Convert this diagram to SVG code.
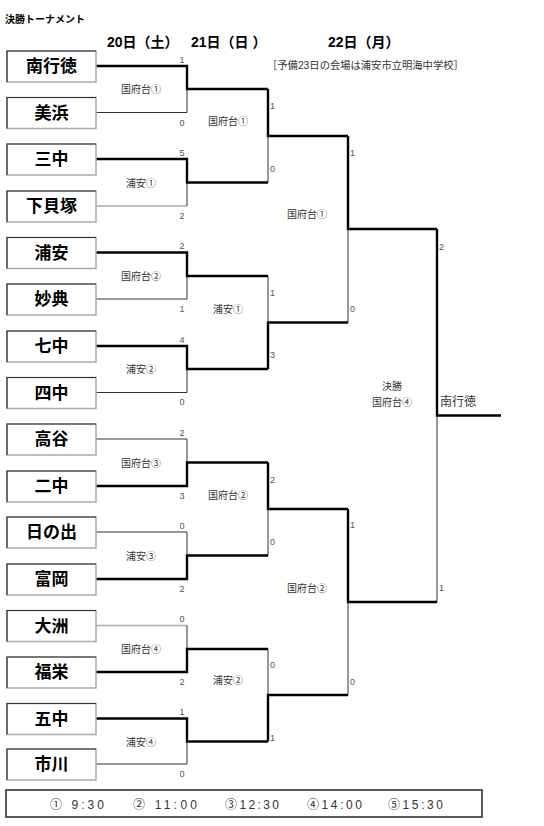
<svg xmlns="http://www.w3.org/2000/svg" width="544" height="826" viewBox="0 0 544 826">
<style>
text{font-family:"Liberation Sans","Noto Sans CJK JP",sans-serif;}
.box{fill:#fff;stroke:#aaa;stroke-width:1.5;}
.boxtl{fill:none;stroke:#333;stroke-width:1.2;}
.team{font-size:17px;fill:#000;text-anchor:middle;font-weight:bold;}
.w{fill:none;stroke:#000;stroke-width:2.4;}
.l{fill:none;stroke:#333;stroke-width:1;}
.lg{fill:none;stroke:#aaa;stroke-width:1.3;}
.sc{font-size:9px;fill:#555;}
.scm{font-size:9px;fill:#555;text-anchor:middle;}
.ml{font-size:10px;fill:#333;text-anchor:middle;}
.hd{font-size:14px;fill:#000;font-weight:bold;}
.lgd{font-size:12px;fill:#333;}
</style>
<rect width="544" height="826" fill="#fff"/>
<g id="header">
<text x="5" y="23" style="font-size:10px;font-weight:bold">決勝トーナメント</text>
<text class="hd" x="107" y="47">20日（土）</text>
<text class="hd" x="191" y="47">21日（日 ）</text>
<text class="hd" x="328" y="47">22日（月）</text>
<text x="267" y="69" style="font-size:10.3px;fill:#333">［予備23日の会場は浦安市立明海中学校］</text>
</g>
<g id="connectors">
<path class="l" d="M96 112.5H187V89"/>
<path class="lg" d="M96 206H187"/><path class="l" d="M187 206V182.5"/>
<path class="l" d="M96 299H187V276"/>
<path class="l" d="M96 392.5H187V369"/>
<path class="l" d="M96 439H187V462.5"/>
<path class="l" d="M96 532H187V555.5"/>
<path class="lg" d="M96 625.5H187"/><path class="l" d="M187 625.5V649"/>
<path class="l" d="M96 764H187V741.5"/>
<path class="l" d="M268 182.5V136"/>
<path class="l" d="M268 276V322.5"/>
<path class="l" d="M268 555.5V509"/>
<path class="l" d="M268 649V695"/>
<path class="l" d="M348 322.5V229"/>
<path class="l" d="M348 695V602"/>
<path class="l" d="M437 602V415.5"/>
<path class="w" d="M96 66H187V89H268"/>
<path class="w" d="M96 159H187V182.5H268"/>
<path class="w" d="M96 252.5H187V276H268"/>
<path class="w" d="M96 346H187V369H268"/>
<path class="w" d="M96 486H187V462.5H268"/>
<path class="w" d="M96 579H187V555.5H268"/>
<path class="w" d="M96 672H187V649H268"/>
<path class="w" d="M96 718.5H187V741.5H268"/>
<path class="w" d="M268 89V136H348"/>
<path class="w" d="M268 369V322.5H348"/>
<path class="w" d="M268 462.5V509H348"/>
<path class="w" d="M268 741.5V695H348"/>
<path class="w" d="M348 136V229H437"/>
<path class="w" d="M348 509V602H437"/>
<path class="w" d="M437 229V415.5H501"/>
</g>
<g id="scores">
<text class="scm" x="182" y="63">1</text><text class="scm" x="182" y="126">0</text>
<text class="scm" x="182" y="156">5</text><text class="scm" x="182" y="219">2</text>
<text class="scm" x="182" y="249">2</text><text class="scm" x="182" y="312">1</text>
<text class="scm" x="182" y="343">4</text><text class="scm" x="182" y="405">0</text>
<text class="scm" x="182" y="436">2</text><text class="scm" x="182" y="499">3</text>
<text class="scm" x="182" y="529">0</text><text class="scm" x="182" y="592">2</text>
<text class="scm" x="182" y="622">0</text><text class="scm" x="182" y="685">2</text>
<text class="scm" x="182" y="715">1</text><text class="scm" x="182" y="777">0</text>
<text class="sc" x="270" y="109">1</text><text class="sc" x="270" y="171.5">0</text>
<text class="sc" x="270" y="296">1</text><text class="sc" x="270" y="358">3</text>
<text class="sc" x="270" y="483">2</text><text class="sc" x="270" y="545">0</text>
<text class="sc" x="270" y="668">0</text><text class="sc" x="270" y="741">1</text>
<text class="sc" x="350" y="156">1</text><text class="sc" x="350" y="311.5">0</text>
<text class="sc" x="350" y="528">1</text><text class="sc" x="350" y="685">0</text>
<text class="sc" x="439" y="249.5">2</text><text class="sc" x="439" y="591">1</text>
</g>
<g id="match-labels">
<text class="ml" x="141" y="93">国府台①</text>
<text class="ml" x="141" y="186.5">浦安①</text>
<text class="ml" x="141" y="280">国府台②</text>
<text class="ml" x="141" y="373">浦安②</text>
<text class="ml" x="141" y="466.5">国府台③</text>
<text class="ml" x="141" y="559.5">浦安③</text>
<text class="ml" x="141" y="653">国府台④</text>
<text class="ml" x="141" y="745.5">浦安④</text>
<text class="ml" x="228" y="125">国府台①</text>
<text class="ml" x="228" y="313">浦安①</text>
<text class="ml" x="228" y="499">国府台②</text>
<text class="ml" x="228" y="684">浦安②</text>
<text class="ml" x="307" y="218">国府台①</text>
<text class="ml" x="307" y="591.5">国府台②</text>
<text class="ml" x="392" y="390">決勝</text>
<text class="ml" x="392" y="405.5">国府台④</text>
</g>
<g id="champion"><text x="440" y="406" style="font-size:12px;fill:#333">南行徳</text></g>
<g id="team-01"><rect class="box" x="7" y="51" width="89" height="31"/><path class="boxtl" d="M7 82V51H96"/><text class="team" x="51.5" y="72">南行徳</text></g>
<g id="team-02"><rect class="box" x="7" y="97.5" width="89" height="31"/><path class="boxtl" d="M7 128.5V97.5H96"/><text class="team" x="51.5" y="118.5">美浜</text></g>
<g id="team-03"><rect class="box" x="7" y="144" width="89" height="31"/><path class="boxtl" d="M7 175V144H96"/><text class="team" x="51.5" y="165">三中</text></g>
<g id="team-04"><rect class="box" x="7" y="191" width="89" height="31"/><path class="boxtl" d="M7 222V191H96"/><text class="team" x="51.5" y="212">下貝塚</text></g>
<g id="team-05"><rect class="box" x="7" y="237.5" width="89" height="31"/><path class="boxtl" d="M7 268.5V237.5H96"/><text class="team" x="51.5" y="258.5">浦安</text></g>
<g id="team-06"><rect class="box" x="7" y="284" width="89" height="31"/><path class="boxtl" d="M7 315V284H96"/><text class="team" x="51.5" y="305">妙典</text></g>
<g id="team-07"><rect class="box" x="7" y="331" width="89" height="31"/><path class="boxtl" d="M7 362V331H96"/><text class="team" x="51.5" y="352">七中</text></g>
<g id="team-08"><rect class="box" x="7" y="377.5" width="89" height="31"/><path class="boxtl" d="M7 408.5V377.5H96"/><text class="team" x="51.5" y="398.5">四中</text></g>
<g id="team-09"><rect class="box" x="7" y="424" width="89" height="31"/><path class="boxtl" d="M7 455V424H96"/><text class="team" x="51.5" y="445">高谷</text></g>
<g id="team-10"><rect class="box" x="7" y="471" width="89" height="31"/><path class="boxtl" d="M7 502V471H96"/><text class="team" x="51.5" y="492">二中</text></g>
<g id="team-11"><rect class="box" x="7" y="517" width="89" height="31"/><path class="boxtl" d="M7 548V517H96"/><text class="team" x="51.5" y="538">日の出</text></g>
<g id="team-12"><rect class="box" x="7" y="564" width="89" height="31"/><path class="boxtl" d="M7 595V564H96"/><text class="team" x="51.5" y="585">富岡</text></g>
<g id="team-13"><rect class="box" x="7" y="610.5" width="89" height="31"/><path class="boxtl" d="M7 641.5V610.5H96"/><text class="team" x="51.5" y="631.5">大洲</text></g>
<g id="team-14"><rect class="box" x="7" y="657" width="89" height="31"/><path class="boxtl" d="M7 688V657H96"/><text class="team" x="51.5" y="678">福栄</text></g>
<g id="team-15"><rect class="box" x="7" y="703.5" width="89" height="31"/><path class="boxtl" d="M7 734.5V703.5H96"/><text class="team" x="51.5" y="724.5">五中</text></g>
<g id="team-16"><rect class="box" x="7" y="749" width="89" height="31"/><path class="boxtl" d="M7 780V749H96"/><text class="team" x="51.5" y="770">市川</text></g>
<g id="legend">
<rect x="6" y="790" width="476" height="27" fill="none" stroke="#333" stroke-width="1.6"/>
<text class="lgd" x="50" y="809" textLength="54" lengthAdjust="spacing">① 9:30</text>
<text class="lgd" x="133" y="809" textLength="64" lengthAdjust="spacing">② 11:00</text>
<text class="lgd" x="225" y="809" textLength="54" lengthAdjust="spacing">③12:30</text>
<text class="lgd" x="307" y="809" textLength="55" lengthAdjust="spacing">④14:00</text>
<text class="lgd" x="388" y="809" textLength="55" lengthAdjust="spacing">⑤15:30</text>
</g>
</svg>
